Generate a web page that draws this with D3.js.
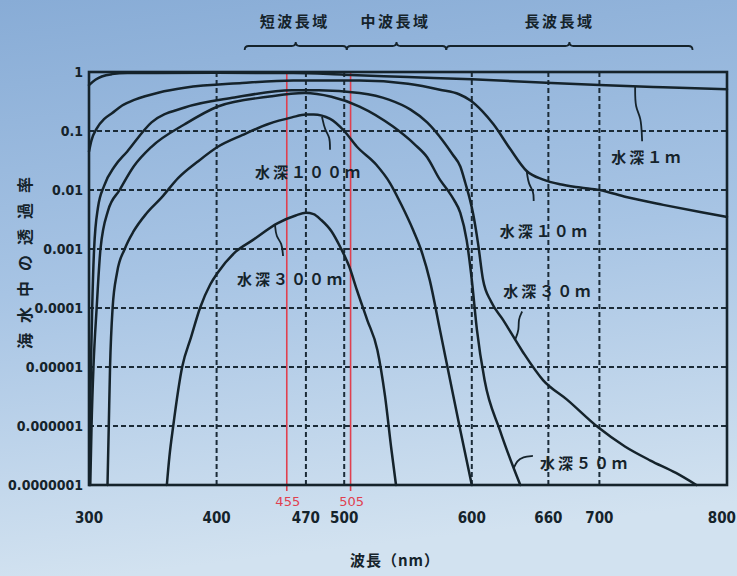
<!DOCTYPE html>
<html>
<head>
<meta charset="utf-8">
<script src="https://cdn.jsdelivr.net/npm/d3@7"></script>
<style>
  html, body { margin: 0; padding: 0; background: #a9c5e4; }
  svg { display: block; }
</style>
</head>
<body>
<svg id="chart" width="737" height="576"></svg>
<script>
// ---- data ---------------------------------------------------------------
// wavelength (nm) axis
const wavelengthTicks = [300, 400, 470, 500, 600, 660, 700, 800];
const gridWavelengths = [400, 470, 500, 600, 660, 700];
// transmittance axis (log)
const transmittanceTicks = [1, 0.1, 0.01, 0.001, 0.0001, 0.00001, 0.000001, 0.0000001];
const transmittanceLabels = ["1", "0.1", "0.01", "0.001", "0.0001", "0.00001", "0.000001", "0.0000001"];
// highlighted wavelengths
const markedWavelengths = [455, 505];
// wavelength bands across the top
const bandNames = ["短波長域", "中波長域", "長波長域"];
const bandEdges = [422, 502, 580, 773];

// transmittance in sea water vs wavelength, one series per depth: [nm, T]
const depth1m = [[300,0.6],[305,0.74],[310,0.84],[318,0.92],[330,0.96],[400,0.97],[460,0.96],[500,0.9],[550,0.82],[600,0.75],[650,0.67],[700,0.6],[750,0.55],[800,0.51]];
const depth10m = [[300,0.045],[302,0.07],[306,0.11],[312,0.16],[318,0.2],[326,0.27],[336,0.34],[355,0.45],[375,0.54],[420,0.65],[460,0.72],[512,0.72],[550,0.63],[575,0.5],[590,0.42],[599,0.33],[608,0.22],[617,0.13],[630,0.05],[643,0.021],[656,0.015],[669,0.0125],[685,0.011],[700,0.01],[721,0.0076],[750,0.0056],[780,0.0042],[800,0.0035]];
const depth30m = [[300.3,1e-7],[300.8,1e-6],[301.5,1e-5],[302.5,1e-4],[304,1e-3],[307,0.005],[312,0.012],[320,0.025],[330,0.045],[349,0.14],[375,0.25],[414,0.37],[459,0.49],[480,0.49],[512,0.44],[535,0.34],[552,0.23],[565,0.14],[577,0.07],[585,0.04],[591,0.025],[595,0.013],[598.6,0.0068],[601,0.004],[605,0.0012],[608.8,0.0003],[615,0.00013],[624.5,0.000063],[640,0.000018],[655.8,0.000006],[674.6,0.0000028],[699,0.00000095],[720,0.00000045],[740,0.00000026],[760,0.00000016],[776,0.0000001]];
const depth50m = [[301,1e-7],[302,1e-6],[303.5,1e-5],[306,1e-4],[309,1e-3],[315,0.0045],[324,0.01],[335,0.025],[349,0.054],[375,0.13],[401,0.26],[440,0.38],[469,0.44],[490,0.38],[512,0.26],[538,0.12],[555,0.06],[565,0.036],[575,0.015],[581,0.01],[586,0.0068],[591,0.0041],[596,0.0014],[600,0.0003],[604,0.000043],[610,0.000006],[622,0.00000085],[638,1e-7]];
const depth100m = [[314.5,1e-7],[315.5,1e-6],[316.5,1e-5],[318.5,1e-4],[322,0.0004],[328,0.001],[335,0.002],[345,0.004],[357,0.0075],[370,0.016],[385,0.03],[401,0.054],[420,0.085],[440,0.13],[459,0.17],[470,0.19],[476,0.19],[489,0.16],[500,0.1],[510,0.054],[525,0.027],[536,0.013],[545,0.0055],[554,0.0021],[560,0.001],[567,0.0003],[575,0.000043],[583,0.000006],[591,0.00000085],[600,1e-7]];
const depth300m = [[361,1e-7],[363,3e-7],[366,1e-6],[373,1e-5],[380,3.2e-5],[387,1e-4],[395,2.5e-4],[401,4e-4],[415,9e-4],[428,0.0014],[448,0.00275],[462,0.0037],[470,0.0041],[476,0.0039],[482,0.0031],[490,0.002],[497,0.00107],[504,0.0005],[510,0.0002],[518,0.000063],[526,0.0000195],[532,0.0000032],[537,0.0000004],[540.6,1e-7]];

const depthNames = ["水深１ｍ", "水深１０ｍ", "水深３０ｍ", "水深５０ｍ", "水深１００ｍ", "水深３００ｍ"];
const depthSeries = [depth1m, depth10m, depth30m, depth50m, depth100m, depth300m];
// wavelength where each depth label's leader touches its curve
const labelWavelengths = [728, 643, 634, 633, 482.6, 445.8];

// ---- drawing ------------------------------------------------------------
const svg = d3.select("#chart");
const W = 737, H = 576;
const plot = { left: 89, right: 727, top: 72, bottom: 485 };
const ink = "#15232b";

const defs = svg.append("defs");
const bg = defs.append("linearGradient").attr("id", "bg")
  .attr("x1", 0).attr("y1", 0).attr("x2", 0.15).attr("y2", 1);
bg.append("stop").attr("offset", "0%").attr("stop-color", "#88acd6");
bg.append("stop").attr("offset", "50%").attr("stop-color", "#a7c4e4");
bg.append("stop").attr("offset", "100%").attr("stop-color", "#d2e2f0");
svg.append("rect").attr("width", W).attr("height", H).attr("fill", "url(#bg)");

const x = d3.scaleLinear().domain([300, 800]).range([plot.left, plot.right]);
const y = d3.scaleLog().domain([1e-7, 1]).range([plot.bottom, plot.top]);

// dashed grid
const grid = svg.append("g").attr("stroke", "#1b2b37").attr("stroke-width", 2)
  .attr("stroke-dasharray", "5,3").attr("fill", "none");
grid.selectAll("line.h").data(transmittanceTicks.slice(1, -1)).join("line")
  .attr("x1", plot.left).attr("x2", plot.right)
  .attr("y1", d => y(d)).attr("y2", d => y(d));
grid.selectAll("line.v").data(gridWavelengths).join("line")
  .attr("y1", plot.top).attr("y2", plot.bottom)
  .attr("x1", d => x(d)).attr("x2", d => x(d));

// highlighted wavelengths
svg.append("g").selectAll("line").data(markedWavelengths).join("line")
  .attr("x1", d => x(d)).attr("x2", d => x(d))
  .attr("y1", plot.top).attr("y2", plot.bottom + 6)
  .attr("stroke", "#e0404f").attr("stroke-width", 1.6);

// curves
const line = d3.line().x(d => x(d[0])).y(d => y(d[1])).curve(d3.curveMonotoneX);
svg.append("g").selectAll("path").data(depthSeries).join("path")
  .attr("d", line).attr("fill", "none").attr("stroke", ink)
  .attr("stroke-width", 2.5).attr("stroke-linejoin", "round").attr("stroke-linecap", "round");

// frame
svg.append("rect").attr("x", plot.left).attr("y", plot.top)
  .attr("width", plot.right - plot.left).attr("height", plot.bottom - plot.top)
  .attr("fill", "none").attr("stroke", ink).attr("stroke-width", 2.6);

// y axis labels
const axisFont = "'DejaVu Sans Condensed', 'DejaVu Sans', sans-serif";
svg.append("g").selectAll("text").data(transmittanceTicks).join("text")
  .attr("x", plot.left - 6).attr("y", d => y(d) + 5)
  .attr("text-anchor", "end").attr("font-family", axisFont)
  .attr("font-weight", "bold").attr("font-size", 14).attr("fill", ink)
  .text((d, i) => transmittanceLabels[i]);

// x axis labels (the last one kept inside the page edge)
const lastTick = wavelengthTicks[wavelengthTicks.length - 1];
svg.append("g").selectAll("text").data(wavelengthTicks).join("text")
  .attr("x", d => d === lastTick ? W - 1 : x(d)).attr("y", 523)
  .attr("text-anchor", d => d === lastTick ? "end" : "middle").attr("font-family", axisFont)
  .attr("font-weight", "bold").attr("font-size", 15).attr("fill", ink)
  .text(d => d);

svg.append("g").selectAll("text").data(markedWavelengths).join("text")
  .attr("x", d => x(d) + 1).attr("y", 506)
  .attr("text-anchor", "middle").attr("font-family", "'DejaVu Sans', sans-serif")
  .attr("font-size", 13).attr("fill", "#e0404f")
  .text(d => d);

// axis titles
const jpFont = "'Noto Sans CJK JP', sans-serif";
svg.append("text").attr("x", 395).attr("y", 566).attr("text-anchor", "middle")
  .attr("font-family", jpFont).attr("font-weight", "bold").attr("font-size", 15)
  .attr("letter-spacing", 1).attr("fill", ink).text("波長（nm）");

svg.append("text").attr("transform", "translate(31,258) rotate(-90)")
  .attr("text-anchor", "middle").attr("font-family", jpFont)
  .attr("font-weight", "bold").attr("font-size", 16).attr("letter-spacing", 10)
  .attr("fill", ink).text("海水中の透過率");

// wavelength bands with braces
const braceY = 46;
const bandLabelShift = [0, 0, -9];
const bands = bandNames.map((name, i) => ({ name, from: bandEdges[i], to: bandEdges[i + 1] }));
const braces = svg.append("g");
bands.forEach((b, i) => {
  const x0 = x(b.from), x1 = x(b.to), cx = (x0 + x1) / 2;
  const p = d3.path();
  p.moveTo(x0, braceY + 4);
  p.quadraticCurveTo(x0, braceY, x0 + 4, braceY);
  p.lineTo(cx - 4, braceY);
  p.quadraticCurveTo(cx, braceY, cx, braceY - 4);
  p.quadraticCurveTo(cx, braceY, cx + 4, braceY);
  p.lineTo(x1 - 4, braceY);
  p.quadraticCurveTo(x1, braceY, x1, braceY + 4);
  braces.append("path").attr("d", p.toString()).attr("fill", "none")
    .attr("stroke", ink).attr("stroke-width", 1.8);
  braces.append("text").attr("x", cx - 1 + bandLabelShift[i]).attr("y", 27).attr("text-anchor", "middle")
    .attr("font-family", jpFont).attr("font-weight", "bold").attr("font-size", 15)
    .attr("letter-spacing", 2.5).attr("fill", ink).text(b.name);
});

// depth labels with leader lines
function valueAt(series, nm) {
  for (let i = 1; i < series.length; i++) {
    const a = series[i - 1], b = series[i];
    if (nm <= b[0]) {
      const t = (nm - a[0]) / (b[0] - a[0]);
      return Math.pow(10, Math.log10(a[1]) + t * (Math.log10(b[1]) - Math.log10(a[1])));
    }
  }
  return series[series.length - 1][1];
}
const labelLayout = [
  { leader: [[0,0],[0,22],[6,30],[7,55]], text: [-24, 77] },
  { leader: [[0,0],[2,14],[7,20],[7,30]], text: [-27, 66] },
  { leader: [[0,0],[4,-10],[3,-20],[7,-28]], text: [-12, -43] },
  { leader: [[0,0],[3,-7],[9,-11],[19,-12]], text: [26, 1] },
  { leader: [[0,0],[3,14],[8,20],[8,33]], text: [-67, 61] },
  { leader: [[0,0],[1,12],[7,18],[8,31]], text: [-38, 60] }
];
const labels = svg.append("g");
depthSeries.forEach((s, i) => {
  const ax = x(labelWavelengths[i]), ay = y(valueAt(s, labelWavelengths[i]));
  const L = labelLayout[i];
  labels.append("path")
    .attr("d", d3.line().curve(d3.curveBasis)(L.leader.map(p => [ax + p[0], ay + p[1]])))
    .attr("fill", "none").attr("stroke", ink).attr("stroke-width", 1.8);
  labels.append("text").attr("x", ax + L.text[0]).attr("y", ay + L.text[1])
    .attr("font-family", jpFont).attr("font-weight", "bold").attr("font-size", 15)
    .attr("letter-spacing", 3).attr("fill", ink).text(depthNames[i]);
});
</script>
</body>
</html>
